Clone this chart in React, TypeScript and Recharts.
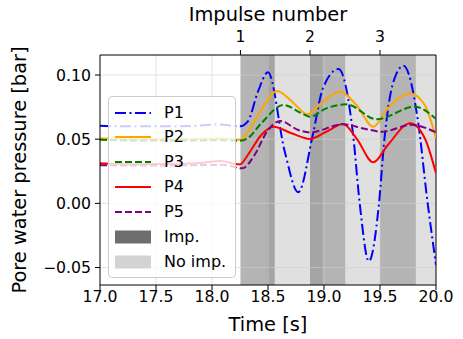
import { Line, LineChart, ReferenceArea, ReferenceLine, XAxis, YAxis } from 'recharts';

// time [s] / pressure [bar] pairs
const p1 = [
  [17.0, 0.0605], [17.2, 0.06], [17.5, 0.06], [17.8, 0.0603], [18.08, 0.0615], [18.2, 0.0602],
  [18.25, 0.06], [18.32, 0.0638], [18.41, 0.087], [18.5, 0.1021], [18.65, 0.0402], [18.77, 0.0086],
  [18.9, 0.0533], [18.99, 0.0896], [19.13, 0.1047], [19.26, 0.0533], [19.32, -0.001], [19.4, -0.0452],
  [19.49, -0.001], [19.54, 0.0507], [19.62, 0.0948], [19.71, 0.1073], [19.84, 0.0636], [19.92, 0.004],
  [20.0, -0.048],
];
const p2 = [
  [17.0, 0.0505], [17.3, 0.05], [17.6, 0.05], [17.9, 0.0502], [18.1, 0.0505], [18.25, 0.0495],
  [18.32, 0.0558], [18.44, 0.0727], [18.58, 0.0875], [18.73, 0.078], [18.85, 0.0694], [18.99, 0.0792],
  [19.14, 0.087], [19.29, 0.0766], [19.44, 0.0597], [19.57, 0.074], [19.77, 0.0857], [19.9, 0.0766],
  [20.0, 0.0507],
];
const p3 = [
  [17.0, 0.0495], [17.3, 0.049], [17.6, 0.049], [17.9, 0.049], [18.1, 0.0492], [18.25, 0.0488],
  [18.32, 0.0507], [18.44, 0.0624], [18.64, 0.0766], [18.8, 0.0702], [18.875, 0.0675], [19.02, 0.074],
  [19.2, 0.0772], [19.47, 0.0655], [19.81, 0.0753], [20.0, 0.0657],
];
const p4 = [
  [17.0, 0.0312], [17.3, 0.0305], [17.6, 0.0308], [17.9, 0.0315], [18.08, 0.033], [18.2, 0.0308],
  [18.25, 0.0303], [18.32, 0.0377], [18.44, 0.0533], [18.55, 0.0597], [18.71, 0.0546], [18.875, 0.0502],
  [19.02, 0.0558], [19.17, 0.0618], [19.29, 0.0507], [19.44, 0.032], [19.57, 0.0455], [19.77, 0.0624],
  [19.9, 0.0507], [20.0, 0.0234],
];
const p5 = [
  [17.0, 0.0298], [17.3, 0.0295], [17.6, 0.0295], [17.9, 0.0298], [18.1, 0.03], [18.27, 0.0273],
  [18.38, 0.0377], [18.49, 0.0558], [18.61, 0.0642], [18.77, 0.0572], [18.875, 0.0553], [19.17, 0.0616],
  [19.37, 0.058], [19.52, 0.0558], [19.78, 0.0612], [20.0, 0.0553],
];

const timeTicks = [17.0, 17.5, 18.0, 18.5, 19.0, 19.5, 20.0];
const pressureTicks = [-0.05, 0.0, 0.05, 0.1];
const impulseTimes = [18.254, 18.875, 19.5];
const impulseLabels = ['1', '2', '3'];
const impBands = [[18.254, 18.56], [18.875, 19.19], [19.5, 19.82]];
const noImpBands = [[18.49, 18.99], [19.19, 19.5], [19.82, 20.0]];

const series = [
  { name: 'P1', points: p1, color: '#0000ff', dash: '11 3.5 2 3.5' },
  { name: 'P2', points: p2, color: '#ffa500', dash: undefined },
  { name: 'P3', points: p3, color: '#008000', dash: '7 3' },
  { name: 'P4', points: p4, color: '#ff0000', dash: undefined },
  { name: 'P5', points: p5, color: '#800080', dash: '7 3' },
];

const font = '"DejaVu Sans", sans-serif';
const tickStyle = { fill: '#000', fontSize: 15.7, fontFamily: font };
const gridColor = '#cfcfcf';

const fmtPressure = (v: number) => (v < 0 ? '\u2212' : '') + Math.abs(v).toFixed(2);

function LegendBox() {
  const rows = [
    ...series.map((s) => ({ label: s.name, color: s.color, dash: s.dash, patch: false })),
    { label: 'Imp.', color: '#6e6e6e', dash: undefined, patch: true },
    { label: 'No imp.', color: '#d3d3d3', dash: undefined, patch: true },
  ];
  return (
    <div
      style={{
        position: 'absolute', left: 108, top: 96, width: 128, height: 182,
        boxSizing: 'border-box', border: '1px solid #cccccc', borderRadius: 4,
        background: 'rgba(255,255,255,0.8)', fontFamily: font, fontSize: 16, color: '#000',
      }}
    >
      {rows.map((r, i) => (
        <div
          key={r.label}
          style={{ position: 'absolute', left: 6, top: 15.5 + i * 24.9 - 10, height: 20, display: 'flex', alignItems: 'center' }}
        >
          <svg width={36} height={20}>
            {r.patch ? (
              <rect x={0} y={3.5} width={36} height={13} fill={r.color} />
            ) : (
              <line x1={0} x2={36} y1={10} y2={10} stroke={r.color} strokeWidth={2} strokeDasharray={r.dash} />
            )}
          </svg>
          <span style={{ marginLeft: 13, lineHeight: '20px', whiteSpace: 'nowrap' }}>{r.label}</span>
        </div>
      ))}
    </div>
  );
}

export default function App() {
  return (
    <div style={{ position: 'absolute', left: 0, top: 0, width: 463, height: 339, background: '#fff' }}>
      <LineChart width={463} height={339} margin={{ top: 0, right: 27, bottom: 0, left: 0 }}>
        <XAxis
          dataKey="t"
          type="number"
          domain={[17, 20]}
          ticks={timeTicks}
          tickFormatter={(v: number) => v.toFixed(1)}
          height={54}
          tick={tickStyle}
          tickSize={5}
          tickMargin={1}
          axisLine={{ stroke: '#000' }}
          tickLine={{ stroke: '#000' }}
          allowDataOverflow
          label={(p: any) => {
            const vb = p.viewBox || { x: 100, y: 285, width: 336, height: 54 };
            return (
              <text x={vb.x + vb.width / 2} y={331} textAnchor="middle" fontSize={19.4} fontFamily={font} fill="#000">
                Time [s]
              </text>
            );
          }}
        />
        <XAxis
          xAxisId="top"
          orientation="top"
          dataKey="t"
          type="number"
          domain={[17, 20]}
          ticks={impulseTimes}
          tickFormatter={(_v: number, i: number) => impulseLabels[i]}
          height={55}
          tick={tickStyle}
          tickSize={5}
          tickMargin={8}
          axisLine={{ stroke: '#000' }}
          tickLine={{ stroke: '#000' }}
          allowDataOverflow
          label={(p: any) => {
            const vb = p.viewBox || { x: 100, y: 0, width: 336, height: 55 };
            return (
              <text x={vb.x + vb.width / 2} y={21} textAnchor="middle" fontSize={19.4} fontFamily={font} fill="#000">
                Impulse number
              </text>
            );
          }}
        />
        <YAxis
          type="number"
          domain={[-0.0636, 0.1156]}
          ticks={pressureTicks}
          tickFormatter={fmtPressure}
          width={100}
          tick={tickStyle}
          tickSize={5}
          tickMargin={4}
          axisLine={{ stroke: '#000' }}
          tickLine={{ stroke: '#000' }}
          allowDataOverflow
          label={(p: any) => {
            const vb = p.viewBox || { x: 0, y: 55, width: 100, height: 230 };
            const cy = vb.y + vb.height / 2;
            return (
              <text x={26} y={cy} transform={`rotate(-90 26 ${cy})`} textAnchor="middle" fontSize={19.4} fontFamily={font} fill="#000">
                Pore water pressure [bar]
              </text>
            );
          }}
        />
        {noImpBands.map(([a, b]) => (
          <ReferenceArea key={'n' + a} x1={a} x2={b} fill="#d3d3d3" fillOpacity={0.7} stroke="none" />
        ))}
        {impBands.map(([a, b]) => (
          <ReferenceArea key={'i' + a} x1={a} x2={b} fill="#696969" fillOpacity={0.5} stroke="none" />
        ))}
        {timeTicks.slice(1, -1).map((t) => (
          <ReferenceLine key={'gx' + t} x={t} stroke={gridColor} strokeOpacity={0.6} />
        ))}
        {pressureTicks.map((v) => (
          <ReferenceLine key={'gy' + v} y={v} stroke={gridColor} strokeOpacity={0.6} />
        ))}
        <ReferenceLine x={20} stroke="#000" />
        {series.map((s) => (
          <Line
            key={s.name}
            name={s.name}
            data={s.points.map(([t, v]) => ({ t, v }))}
            dataKey="v"
            type="monotone"
            stroke={s.color}
            strokeWidth={2}
            strokeDasharray={s.dash}
            dot={false}
            activeDot={false}
            isAnimationActive={false}
          />
        ))}
      </LineChart>
      <LegendBox />
    </div>
  );
}
